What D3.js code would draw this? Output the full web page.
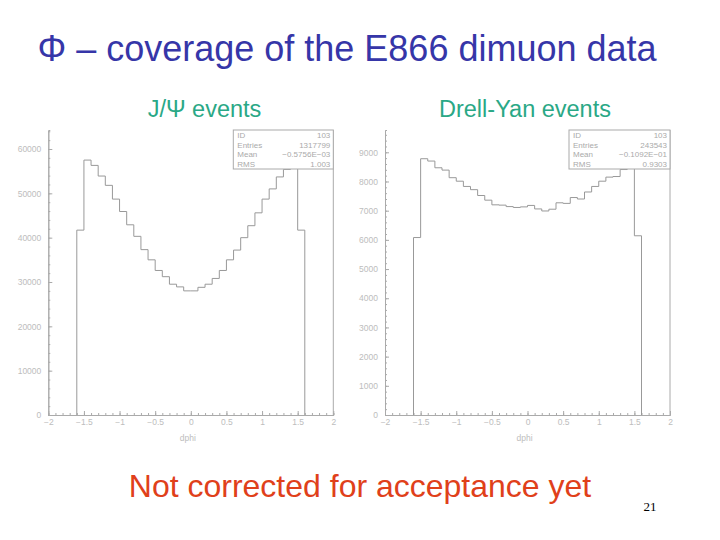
<!DOCTYPE html>
<html><head><meta charset="utf-8">
<script src="https://cdn.jsdelivr.net/npm/d3@7/dist/d3.min.js"></script>
<style>
body{margin:0;background:#fff;}
svg{display:block;font-family:"Liberation Sans",Arial,sans-serif;}
</style></head>
<body>
<svg id="c" width="720" height="540"></svg>
<script>
// ---- data ----
const binEdgesStart = -1.6;
const binWidth = 0.1;
const jpsiCounts = [41700, 57500, 56300, 53900, 51800, 48700, 45900, 42900, 40300, 37300, 35000, 32600, 31200, 29500, 28900, 28000,
                    28000, 28800, 29500, 30800, 32600, 35000, 37200, 40000, 42700, 45600, 48700, 51000, 53700, 55400, 57900, 41700];
const dyCounts = [6080, 8780, 8700, 8470, 8390, 8130, 8010, 7830, 7720, 7520, 7360, 7200, 7190, 7140, 7110, 7130,
                  7180, 7060, 6990, 7050, 7270, 7250, 7450, 7400, 7640, 7830, 8010, 8150, 8170, 8410, 8460, 6140];
const xTicks = [-2, -1.5, -1, -0.5, 0, 0.5, 1, 1.5, 2];
const jpsiYTicks = [0, 10000, 20000, 30000, 40000, 50000, 60000];
const dyYTicks = [0, 1000, 2000, 3000, 4000, 5000, 6000, 7000, 8000, 9000];
const jpsiStats = [["ID", "103"], ["Entries", "1317799"], ["Mean", "\u22120.5756E\u221203"], ["RMS", "1.003"]];
const dyStats = [["ID", "103"], ["Entries", "243543"], ["Mean", "\u22120.1092E\u221201"], ["RMS", "0.9303"]];
const titleText = "\u03A6 \u2013 coverage of the E866 dimuon data";
const subTitles = ["J/\u03A8 events", "Drell-Yan events"];
const footText = "Not corrected for acceptance yet";
const pageNum = "21";
const xLabel = "dphi";

const svg = d3.select("#c");
const fmt = v => (v < 0 ? "\u2212" + (-v) : String(v));

svg.append("text").attr("x", 347).attr("y", 61).attr("text-anchor", "middle")
  .attr("font-size", 36).attr("fill", "#3636a8").text(titleText);

function panel(opt) {
  const g = svg.append("g");
  const x = d3.scaleLinear().domain([-2, 2]).range([opt.x0, opt.x1]);
  const y = d3.scaleLinear().domain([0, opt.yMax]).range([415, 130]);
  const axCol = "#aaaaaa";

  // subtitle
  svg.append("text").attr("x", opt.subX).attr("y", 117).attr("text-anchor", "middle")
    .attr("font-size", 23.5).attr("fill", "#2aa886").text(opt.sub);

  // x axis
  const xa = g.append("g").attr("transform", `translate(0,${y(0)})`)
    .call(d3.axisBottom(x).tickValues(xTicks).tickSizeInner(-4).tickSizeOuter(0).tickPadding(6).tickFormat(fmt));
  const xm = g.append("g").attr("transform", `translate(0,${y(0)})`)
    .call(d3.axisBottom(x).tickValues(d3.range(-20, 21).map(i => i / 10)).tickSize(-2).tickFormat(""));
  // y axis
  const ya = g.append("g").attr("transform", `translate(${opt.x0},0)`)
    .call(d3.axisLeft(y).tickValues(opt.yTicks).tickSizeInner(-4).tickSizeOuter(0).tickPadding(7).tickFormat(d => d));
  const ym = g.append("g").attr("transform", `translate(${opt.x0},0)`)
    .call(d3.axisLeft(y).tickValues(d3.range(0, opt.yMax, opt.minor)).tickSize(-2).tickFormat(""));
  [xa, xm, ya, ym].forEach(a => {
    a.selectAll("path.domain").attr("stroke", axCol);
    a.selectAll("line").attr("stroke", axCol);
    a.selectAll("text").attr("fill", "#bdbdbd").attr("font-size", 8.5);
  });
  xa.selectAll("text").attr("dy", "0.5em");
  // right frame
  g.append("line").attr("x1", x(2)).attr("x2", x(2)).attr("y1", y(opt.yMax)).attr("y2", y(0))
    .attr("stroke", axCol);

  // histogram
  const pts = [[binEdgesStart, 0]];
  opt.data.forEach((v, i) => pts.push([binEdgesStart + i * binWidth, v]));
  pts.push([binEdgesStart + opt.data.length * binWidth, 0]);
  const line = d3.line().x(d => x(d[0])).y(d => y(d[1])).curve(d3.curveStepAfter);
  g.append("path").attr("d", line(pts)).attr("fill", "none").attr("stroke", "#999999").attr("stroke-width", 1);

  // stats box
  const bx = opt.boxX, bw = x(2) - opt.boxX, by = 130, bh = 39;
  g.append("rect").attr("x", bx).attr("y", by).attr("width", bw).attr("height", bh)
    .attr("fill", "#fff").attr("stroke", axCol);
  opt.stats.forEach((s, i) => {
    g.append("text").attr("x", bx + 4).attr("y", by + 8 + i * 9.5).attr("font-size", 8)
      .attr("fill", "#aaaaaa").text(s[0]);
    g.append("text").attr("x", x(2) - 3).attr("y", by + 8 + i * 9.5).attr("font-size", 8)
      .attr("text-anchor", "end").attr("fill", "#aaaaaa").text(s[1]);
  });

  // x label
  g.append("text").attr("x", x(0) - 3).attr("y", 441).attr("text-anchor", "middle")
    .attr("font-size", 8.5).attr("fill", "#bdbdbd").text(xLabel);
}

panel({x0: 48.3, x1: 333.3, yMax: 60000 * 285 / 266, yTicks: jpsiYTicks, minor: 2000,
       data: jpsiCounts, stats: jpsiStats, boxX: 233.3, sub: subTitles[0], subX: 204.5});
panel({x0: 385, x1: 670, yMax: 9000 * 285 / 262.7, yTicks: dyYTicks, minor: 200,
       data: dyCounts, stats: dyStats, boxX: 569, sub: subTitles[1], subX: 525});

svg.append("text").attr("x", 360).attr("y", 497).attr("text-anchor", "middle")
  .attr("font-size", 32).attr("fill", "#e0401a").text(footText);
svg.append("text").attr("x", 650).attr("y", 511).attr("text-anchor", "middle")
  .attr("font-family", "'Liberation Serif',serif").attr("font-size", 13).attr("fill", "#000").text(pageNum);
</script>
</body></html>
